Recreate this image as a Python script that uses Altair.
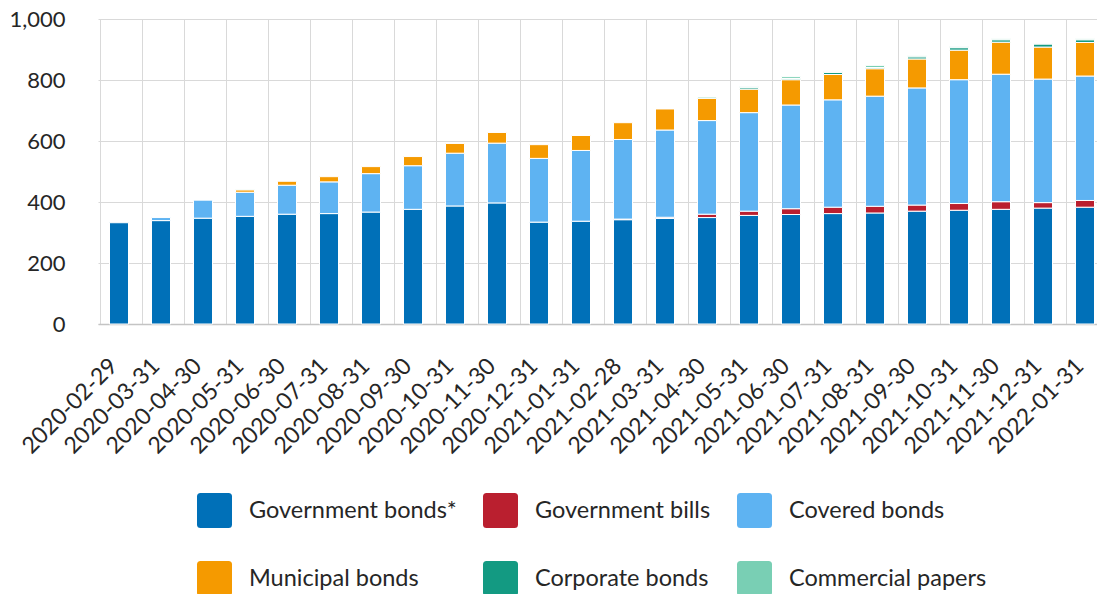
import altair as alt
import pandas as pd

dates = ["2020-02-29", "2020-03-31", "2020-04-30", "2020-05-31", "2020-06-30", "2020-07-31",
         "2020-08-31", "2020-09-30", "2020-10-31", "2020-11-30", "2020-12-31", "2021-01-31",
         "2021-02-28", "2021-03-31", "2021-04-30", "2021-05-31", "2021-06-30", "2021-07-31",
         "2021-08-31", "2021-09-30", "2021-10-31", "2021-11-30", "2021-12-31", "2022-01-31"]

series = ["Government bonds*", "Government bills", "Covered bonds",
          "Municipal bonds", "Corporate bonds", "Commercial papers"]
colors = ["#0070B8", "#BA1F2F", "#5EB3F2", "#F59A00", "#139A82", "#79CFB4"]

government_bonds = [332, 339, 347, 353, 360, 362, 367, 376, 387, 397, 334, 337,
                    342, 346, 349, 356, 359, 362, 364, 370, 373, 376, 380, 383]
government_bills = [0, 0, 0, 0, 0, 0, 0, 0, 0, 0, 0, 0,
                    2, 4, 11, 14, 19, 21, 22, 20, 22, 25, 18, 22]
covered_bonds = [0, 10, 59, 79, 95, 104, 126, 143, 173, 196, 209, 232,
                 261, 286, 307, 323, 340, 352, 361, 384, 406, 418, 405, 408]
municipal_bonds = [0, 0, 0, 8, 13, 17, 23, 30, 32, 35, 45, 49,
                   55, 69, 73, 77, 83, 83, 90, 95, 97, 105, 105, 110]
corporate_bonds = [0, 0, 0, 0, 0, 0, 0, 0, 0, 0, 0, 0,
                   0, 0, 0, 5, 4, 7, 4, 7, 8, 8, 10, 9]
commercial_papers = [0, 0, 0, 2, 0, 0, 0, 0, 0, 0, 0, 0,
                     0, 0, 4, 3, 6, 3, 7, 3, 3, 3, 2, 3]

all_values = [government_bonds, government_bills, covered_bonds,
              municipal_bonds, corporate_bonds, commercial_papers]

rows = []
for i, d in enumerate(dates):
    for k, (name, vals) in enumerate(zip(series, all_values)):
        if vals[i] > 0:
            rows.append({"date": d, "series": name, "value": vals[i], "order": k})
df = pd.DataFrame(rows)

symbol = ("M-0.8,-1L0.8,-1Q1,-1,1,-0.8L1,0.8Q1,1,0.8,1L-0.8,1"
          "Q-1,1,-1,0.8L-1,-0.8Q-1,-1,-0.8,-1Z")

FONT = "Lato"
TXT = "#262626"

chart = alt.Chart(df).mark_bar(size=19, stroke="white", strokeWidth=1).encode(
    x=alt.X("date:N", sort=dates, scale=alt.Scale(range=[0, 1008]),
            axis=alt.Axis(title=None, labelAngle=-45, grid=True, bandPosition=0,
                          ticks=False, tickSize=0, labelPadding=38, labelOffset=-5,
                          labelFontSize=23, labelFont=FONT, labelColor=TXT,
                          labelAlign="right", labelBaseline="middle",
                          domainColor="#c4c4c4", domainWidth=1.5,
                          gridColor="#d9d9d9", gridWidth=1)),
    y=alt.Y("value:Q", stack="zero", scale=alt.Scale(domain=[0, 1000]),
            axis=alt.Axis(title=None, values=[0, 200, 400, 600, 800, 1000], format=",.0f",
                          domain=False, ticks=False, tickSize=0, labelPadding=33,
                          labelFontSize=22, labelFont=FONT, labelColor=TXT,
                          gridColor="#d9d9d9", gridWidth=1)),
    color=alt.Color("series:N", scale=alt.Scale(domain=series, range=colors),
                    legend=alt.Legend(title=None, orient="none", legendX=99, legendY=474,
                                      direction="horizontal", columns=3,
                                      symbolType=symbol, symbolSize=1225,
                                      symbolStrokeWidth=0, labelFontSize=23.5, labelFont=FONT,
                                      labelColor=TXT, labelOffset=17, columnPadding=26,
                                      rowPadding=33, padding=0, labelLimit=400)),
    order=alt.Order("order:Q", sort="ascending"),
).properties(
    width=999, height=305,
    autosize=alt.AutoSizeParams(type="none"),
    padding={"left": 98, "top": 19, "right": 0, "bottom": 270},
).configure_view(strokeWidth=0)

chart.save("out.html", embed_options={"renderer": "svg", "actions": False})
